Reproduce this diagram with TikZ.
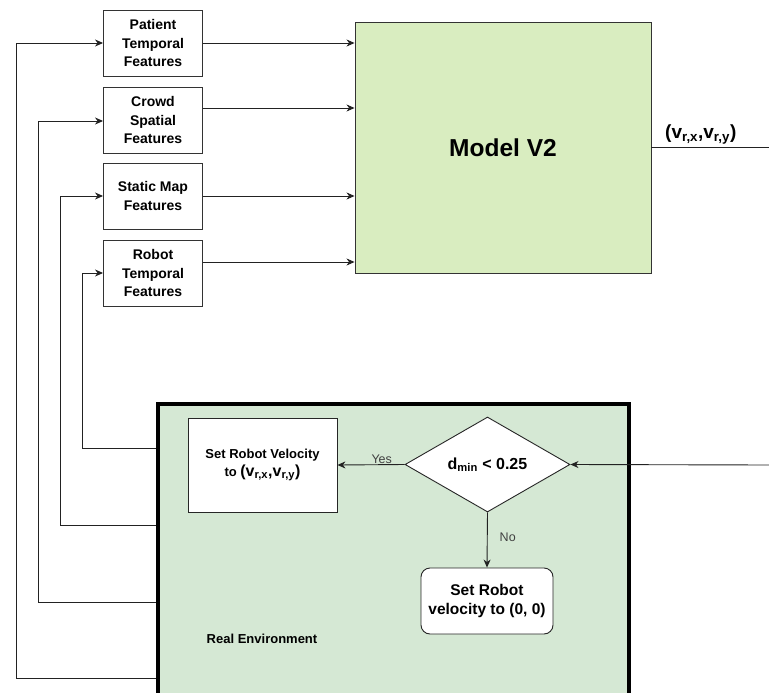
\documentclass[tikz,border=0pt]{standalone}
\usepackage{fontspec}
\setmainfont{Liberation Sans}
\usetikzlibrary{arrows.meta,shapes.geometric}
\definecolor{modelgreen}{HTML}{D9EDC0}
\definecolor{envgreen}{HTML}{D5E8D4}
\definecolor{wire}{HTML}{222222}
\tikzset{
  x=1pt, y=-1pt,
  feat/.style={draw=black!80, fill=white, line width=0.9pt, minimum width=99pt, minimum height=66pt,
    align=center, font=\fontsize{14}{18.5}\selectfont\bfseries, inner sep=0pt},
  conn/.style={draw=wire, line width=0.9pt},
  arr/.style={conn, -{Stealth[length=8pt,width=7pt,inset=2.5pt]}},
  tag/.style={font=\fontsize{12.5}{15}\selectfont, text=black!75},
}
\begin{document}
\begin{tikzpicture}
\useasboundingbox (0,0) rectangle (769,693);

% feature blocks
\node[feat] (pat) at (153,43) {Patient\\Temporal\\Features};
\node[feat] (crowd) at (153,120) {Crowd\\Spatial\\Features};
\node[feat] (stat) at (153,196) {Static Map\\Features};
\node[feat] (rob) at (153,273) {Robot\\Temporal\\Features};

% model block
\node[draw=black!80, fill=modelgreen, line width=0.9pt, minimum width=296pt, minimum height=251pt,
  inner sep=0pt, font=\fontsize{24.5}{28}\selectfont\bfseries] (model) at (503,147.5) {Model V2};

\draw[arr] (pat.east |- 0,43) -- (model.west |- 0,43);
\draw[arr] (crowd.east |- 0,108) -- (model.west |- 0,108);
\draw[arr] (stat.east |- 0,196) -- (model.west |- 0,196);
\draw[arr] (rob.east |- 0,262) -- (model.west |- 0,262);

% model output
\coordinate (outend) at (769,147);
\draw[conn] (model.east |- outend) -- (outend);
\node[font=\fontsize{19}{22}\selectfont\bfseries, anchor=south west, inner sep=0pt] (outlab) at (665,144)
  {(v\textsubscript{r,x},v\textsubscript{r,y})};

% real environment
\node[draw=black, fill=envgreen, line width=4pt, minimum width=471.5pt, minimum height=291pt,
  inner sep=0pt] (env) at (393.25,549) {};
\node[font=\fontsize{13}{15}\selectfont\bfseries] (envlab) at (262,639) {Real Environment};

\node[draw=black!85, fill=white, line width=0.9pt, minimum width=149pt, minimum height=94pt,
  inner sep=0pt, align=center] (setv) at (262.5,465)
  {\fontsize{13}{15}\selectfont\bfseries Set Robot Velocity\\[3pt]
   \fontsize{13}{15}\selectfont\bfseries to {\fontsize{16}{18}\selectfont (v\textsubscript{r,x},v\textsubscript{r,y})}};

\node[draw=black!85, fill=white, line width=0.9pt, diamond, aspect=1.74, minimum width=165pt,
  minimum height=95pt, inner sep=0pt, font=\fontsize{16}{18}\selectfont\bfseries] (dec) at (487.5,464.5)
  {d\textsubscript{min} < 0.25};

\node[draw=black!85, fill=white, line width=0.9pt, rounded corners=9pt, minimum width=132pt,
  minimum height=66pt, inner sep=0pt, align=center, font=\fontsize{15.5}{19.5}\selectfont\bfseries] (zero) at (487,601)
  {Set Robot\\velocity to (0, 0)};

\coordinate (inend) at (769,465);
\draw[arr] (inend) -- (dec.east);
\draw[arr] (dec.west) -- node[tag, above, pos=0.34, inner sep=1pt] {Yes} (setv.east);
\draw[arr] (dec.south) -- node[tag, right, pos=0.45, inner sep=12pt] {No} (zero.north);

% feedback loops from the environment to the feature blocks
\draw[arr] (env.west |- 0,678) -| (16,43) -- (pat.west |- 0,43);
\draw[arr] (env.west |- 0,602) -| (38,121) -- (crowd.west |- 0,121);
\draw[arr] (env.west |- 0,525) -| (60,196) -- (stat.west |- 0,196);
\draw[arr] (env.west |- 0,448) -| (82,273) -- (rob.west |- 0,273);
\end{tikzpicture}
\end{document}
